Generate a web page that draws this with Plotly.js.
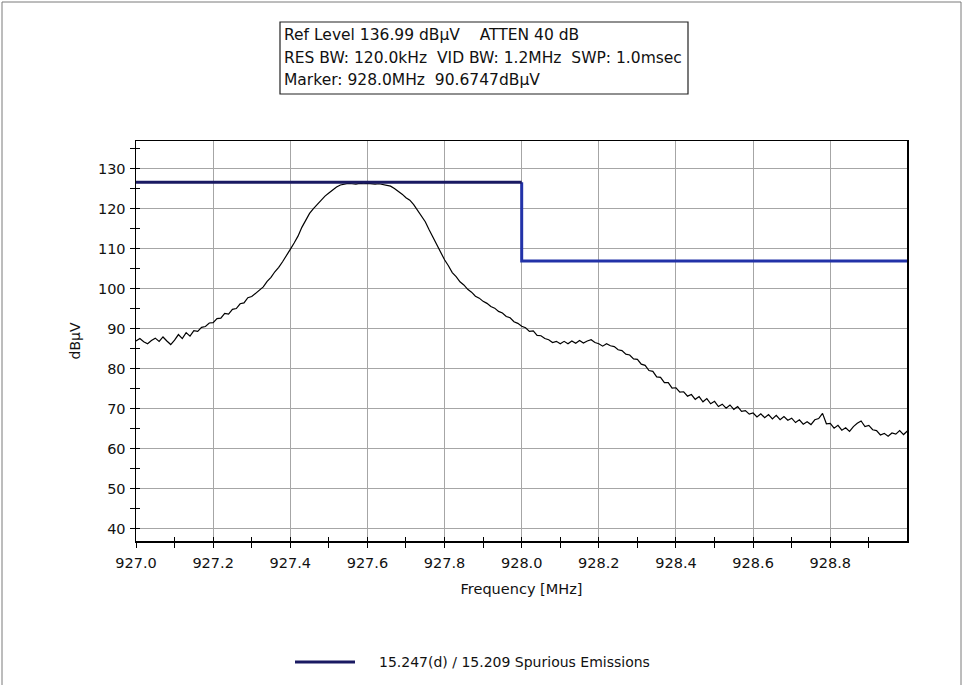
<!DOCTYPE html>
<html>
<head>
<meta charset="utf-8">
<script src="https://cdn.plot.ly/plotly-3.0.1.min.js"></script>
<style>
  html, body { margin: 0; padding: 0; background: #ffffff; }
  #chart { width: 964px; height: 685px; }
</style>
</head>
<body>
<div id="chart"></div>
<script>
// Sweep settings
const sweepStartMHz = 927.0;
const sweepStepMHz = 0.01;

// Measured spectrum, dBµV, one reading per 10 kHz from 927.00 to 929.00 MHz
const levelDbuv = [
  87.0, 87.6, 86.8, 86.3, 87.1, 87.7, 86.9, 88.0, 87.0, 86.1,
  87.2, 88.6, 87.6, 89.1, 88.2, 89.6, 89.4, 90.4, 90.6, 91.5,
  91.6, 92.6, 92.7, 93.9, 93.7, 94.9, 95.1, 96.3, 96.5, 97.8,
  98.1, 98.9, 99.7, 100.5, 101.9, 102.9, 104.3, 105.4, 106.8, 108.2,
  109.9, 111.5, 113.2, 115.4, 117.3, 118.9, 120.1, 121.2, 122.2, 123.2,
  124.0, 124.8, 125.5, 126.0, 126.2, 126.4, 126.3, 126.2, 126.4, 126.3,
  126.4, 126.3, 126.2, 126.3, 126.1, 126.0, 125.7, 125.1, 124.5, 123.7,
  122.8, 122.2, 121.1, 119.6, 118.2, 116.8, 114.8, 112.9, 111.0, 109.1,
  107.3, 105.8, 104.1, 103.1, 101.8, 101.0, 99.9, 99.2, 98.2, 97.7,
  96.9, 96.4, 95.6, 95.2, 94.4, 94.0, 93.1, 92.8, 91.8, 91.4,
  90.67, 90.3, 89.4, 89.5, 88.4, 88.3, 87.6, 87.3, 86.6, 86.9,
  86.3, 86.9, 86.3, 87.0, 86.4, 87.1, 86.5, 87.0, 87.3, 86.6,
  86.3, 85.7, 86.3, 85.8, 85.6, 84.8, 84.6, 83.7, 83.5, 82.5,
  82.4, 81.2, 80.9, 79.6, 79.4, 78.0, 77.9, 76.6, 76.6, 75.2,
  75.3, 74.2, 74.3, 73.2, 73.6, 72.4, 73.1, 71.8, 72.6, 71.3,
  71.9, 70.6, 71.2, 70.2, 71.0, 69.9, 70.6, 69.4, 69.6, 68.7,
  69.0, 68.0, 68.8, 67.8, 68.6, 67.5, 68.4, 67.3, 68.1, 67.2,
  67.7, 66.6, 67.3, 66.2, 66.8, 66.1, 67.3, 67.6, 68.9, 66.3,
  66.4, 65.2, 65.9, 64.7, 65.3, 64.4, 65.6, 66.4, 67.0, 65.6,
  65.9, 64.8, 64.6, 63.5, 63.9, 63.2, 64.0, 63.7, 64.6, 63.6,
  64.5
];

// Limit mask: in-band (927–928 MHz) and out-of-band (928–929 MHz)
const limitName = "15.247(d) / 15.209 Spurious Emissions";
const limitInbandFreq = [927.0, 928.0];
const limitInbandLevel = [126.7, 126.7];
const limitOutbandFreq = [928.0, 928.0, 929.0];
const limitOutbandLevel = [126.7, 107.0, 107.0];

// Analyzer header
const NB = "\u00a0";
const headerLines = [
  "Ref Level 136.99 dBµV" + NB.repeat(4) + "ATTEN 40 dB",
  "RES BW: 120.0kHz" + NB.repeat(2) + "VID BW: 1.2MHz" + NB.repeat(2) + "SWP: 1.0msec",
  "Marker: 928.0MHz" + NB.repeat(2) + "90.6747dBµV"
];

const refLevel = 136.99;
const FONT = "DejaVu Sans, Verdana, sans-serif";

// Plot-area geometry in pixels (used to place paper-referenced text)
const W = 964, H = 685;
const M = { l: 136, r: 57, t: 141, b: 144 };
const plotW = W - M.l - M.r;
const plotH = H - M.t - M.b;
const px2x = px => (px - M.l) / plotW;
const py2y = py => (H - M.b - py) / plotH;

const traces = [
  {
    type: "scatter", mode: "lines",
    x0: sweepStartMHz, dx: sweepStepMHz, y: levelDbuv,
    line: { color: "#000000", width: 1.2 },
    showlegend: false, hoverinfo: "x+y"
  },
  {
    type: "scatter", mode: "lines",
    x: limitOutbandFreq, y: limitOutbandLevel,
    xaxis: "x2", yaxis: "y2",
    line: { color: "#2232a8", width: 3 },
    name: limitName, showlegend: false
  },
  {
    type: "scatter", mode: "lines",
    x: limitInbandFreq, y: limitInbandLevel,
    xaxis: "x2", yaxis: "y2",
    line: { color: "#1a1a62", width: 3 },
    name: limitName, showlegend: false
  }
];

const annotations = headerLines.map((t, i) => ({
  xref: "paper", yref: "paper",
  x: px2x(282), y: py2y(35 + i * 22.5),
  xanchor: "left", yanchor: "middle",
  text: t, showarrow: false,
  font: { family: FONT, size: 15.5, color: "#111111" }
}));

annotations.push({
  xref: "paper", yref: "paper",
  x: px2x(377), y: py2y(662),
  xanchor: "left", yanchor: "middle",
  text: limitName, showarrow: false,
  font: { family: FONT, size: 14, color: "#111111" }
});

const shapes = [
  // header box
  {
    type: "rect", xref: "paper", yref: "paper",
    x0: px2x(280), x1: px2x(688), y0: py2y(22), y1: py2y(94),
    line: { color: "#222222", width: 1.2 }, fillcolor: "rgba(0,0,0,0)"
  },
  // legend key
  {
    type: "line", xref: "paper", yref: "paper",
    x0: px2x(295), x1: px2x(355), y0: py2y(662), y1: py2y(662),
    line: { color: "#1a1a62", width: 3 }
  },
  // panel frame
  {
    type: "rect", xref: "paper", yref: "paper",
    x0: px2x(2), x1: px2x(961), y0: py2y(2), y1: py2y(700),
    line: { color: "#7a7a7a", width: 1 }, fillcolor: "rgba(0,0,0,0)"
  }
];

const tickStyle = { family: FONT, size: 14.5, color: "#111" };

const layout = {
  width: W, height: H,
  margin: M,
  paper_bgcolor: "#ffffff", plot_bgcolor: "#ffffff",
  font: { family: FONT, size: 14, color: "#111111" },
  showlegend: false,
  xaxis: {
    range: [927.0, 928.999],
    tick0: 927.0, dtick: 0.2, tickformat: ".1f",
    ticks: "outside", ticklen: 5, tickcolor: "#000", tickwidth: 1,
    ticklabelstandoff: 3,
    minor: { dtick: 0.1, ticks: "outside", ticklen: 5, tickcolor: "#000", showgrid: false },
    showgrid: true, gridcolor: "#a6a6a6", gridwidth: 1,
    showline: true, linecolor: "#000", linewidth: 1.5, mirror: true,
    zeroline: false,
    tickfont: tickStyle,
    title: { text: "Frequency [MHz]", standoff: 14, font: { family: FONT, size: 14.5, color: "#111" } }
  },
  // companion axes carrying the limit mask; they add the inner half of the crossing ticks
  xaxis2: {
    overlaying: "x", matches: "x", anchor: "y2", side: "bottom",
    tick0: 927.0, dtick: 0.2,
    ticks: "inside", ticklen: 4, tickcolor: "#000",
    minor: { dtick: 0.1, ticks: "inside", ticklen: 4, tickcolor: "#000", showgrid: false },
    showticklabels: false, showgrid: false, showline: false, zeroline: false
  },
  yaxis: {
    range: [refLevel - 100, refLevel],
    tick0: 0, dtick: 10,
    ticks: "outside", ticklen: 5, tickcolor: "#000", tickwidth: 1,
    ticklabelstandoff: 1,
    minor: { dtick: 5, ticks: "outside", ticklen: 5, tickcolor: "#000", showgrid: false },
    showgrid: true, gridcolor: "#a6a6a6", gridwidth: 1,
    showline: true, linecolor: "#000", linewidth: 1.5, mirror: true,
    zeroline: false,
    tickfont: tickStyle,
    title: { text: "dBµV", standoff: 14, font: { family: FONT, size: 14, color: "#111" } }
  },
  yaxis2: {
    overlaying: "y", matches: "y", anchor: "x2", side: "left",
    tick0: 0, dtick: 10,
    ticks: "inside", ticklen: 4, tickcolor: "#000",
    minor: { dtick: 5, ticks: "inside", ticklen: 4, tickcolor: "#000", showgrid: false },
    showticklabels: false, showgrid: false, showline: false, zeroline: false
  },
  annotations: annotations,
  shapes: shapes
};

Plotly.newPlot("chart", traces, layout, { staticPlot: true, displayModeBar: false });
</script>
</body>
</html>
